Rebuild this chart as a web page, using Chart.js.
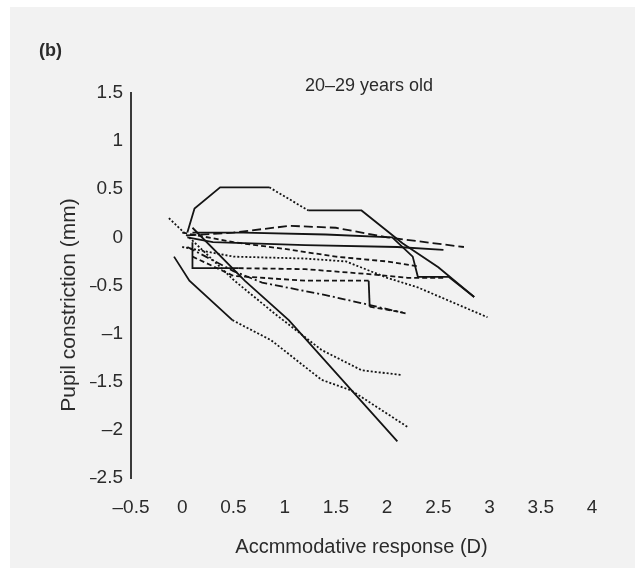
<!DOCTYPE html>
<html>
<head>
<meta charset="utf-8">
<script src="https://cdn.jsdelivr.net/npm/chart.js@4.4.1/dist/chart.umd.min.js"></script>
<style>
html, body { margin: 0; padding: 0; background: #fff; }
#panel { position: absolute; left: 10px; top: 7px; width: 625px; height: 561px; background: #f2f2f2; }
#wrap { position: absolute; left: 0; top: 0; width: 635px; height: 568px; }
</style>
</head>
<body>
<div id="panel"></div>
<div id="wrap"><canvas id="pupilChart" width="635" height="568"></canvas></div>
<script>
// tick values and their printed labels
const xTicks = [-0.5, 0, 0.5, 1, 1.5, 2, 2.5, 3, 3.5, 4];
const xTickLabels = ['\u20130.5', '0', '0.5', '1', '1.5', '2', '2.5', '3', '3.5', '4'];
const yTicks = [-2.5, -2, -1.5, -1, -0.5, 0, 0.5, 1, 1.5];
const yTickLabels = ['\u20132.5', '\u20132', '\u20131.5', '\u20131', '\u20130.5', '0', '0.5', '1', '1.5'];

const panelLabel = '(b)';
const groupLabel = '20\u201329 years old';
const xTitle = 'Accmmodative response (D)';
const yTitle = 'Pupil constriction (mm)';

// one array per subject: [accommodative response, pupil constriction]
const subject01 = [[0.05, 0.02], [0.5, 0.05], [1.05, 0.12], [1.5, 0.1], [2.0, 0.0], [2.75, -0.1]];
const subject02 = [[0.05, 0.05], [0.12, 0.3], [0.37, 0.52], [0.85, 0.52], [1.23, 0.28], [1.75, 0.28], [2.15, -0.06], [2.5, -0.31], [2.85, -0.62]];
const subject03 = [[0.05, 0.0], [0.3, -0.05], [1.2, -0.08], [2.1, -0.1], [2.55, -0.13]];
const subject04 = [[0.1, 0.05], [0.6, 0.05], [1.4, 0.03], [2.05, 0.0], [2.25, -0.2], [2.3, -0.41], [2.6, -0.41], [2.85, -0.62]];
const subject05 = [[0.0, -0.1], [0.5, -0.2], [1.2, -0.22], [1.6, -0.25], [2.0, -0.42], [2.3, -0.52], [2.98, -0.83]];
const subject06 = [[0.1, -0.05], [0.1, -0.32], [0.55, -0.32], [1.2, -0.33], [1.8, -0.38], [2.2, -0.42], [2.55, -0.42]];
const subject07 = [[0.05, -0.1], [0.5, -0.35], [0.78, -0.47], [1.4, -0.6], [1.82, -0.7], [2.18, -0.79]];
const subject08 = [[0.1, -0.2], [0.5, -0.4], [1.2, -0.45], [1.82, -0.45], [1.83, -0.72], [2.15, -0.78]];
const subject09 = [[-0.13, 0.2], [0.51, -0.45], [0.9, -0.79], [1.36, -1.17], [1.75, -1.38], [2.14, -1.43]];
const subject10 = [[0.1, 0.1], [0.61, -0.45], [1.04, -0.86], [1.68, -1.62], [2.1, -2.12]];
const subject11 = [[-0.08, -0.2], [0.07, -0.45], [0.49, -0.86], [0.87, -1.07], [1.36, -1.48], [1.65, -1.59], [2.2, -1.97]];
const subject12 = [[0.0, 0.05], [0.5, -0.05], [1.0, -0.12], [1.5, -0.2], [2.0, -0.25], [2.3, -0.3]];

const subjects = [subject01, subject02, subject03, subject04, subject05, subject06,
                  subject07, subject08, subject09, subject10, subject11, subject12];

// line styles
const solid = [];
const dashLong = [9, 4];
const dashShort = [5, 3];
const dotted = [2, 2];
const dashDot = [8, 3, 2, 3];
const lineDash = [dashLong, solid, solid, solid, dotted, dashShort, dashDot, dashShort, dotted, solid, solid, dashShort];
// some lines change style part way: segment start index -> dash
const segmentDash = [{}, {3: dotted}, {}, {}, {}, {0: solid, 1: solid}, {}, {3: solid}, {}, {}, {2: dotted, 3: dotted, 4: dotted, 5: dotted}, {}];

const ink = '#141414';
const textColour = '#2b2b2b';
const fontFamily = '"Liberation Sans", Arial, Helvetica, sans-serif';

const datasets = subjects.map((points, index) => ({
    label: 'S' + (index + 1),
    data: points.map(p => ({x: p[0], y: p[1]})),
    borderColor: ink,
    borderWidth: 1.8,
    borderDash: lineDash[index],
    pointRadius: 0,
    tension: 0,
    fill: false,
    segment: {
        borderDash: ctx => segmentDash[index][ctx.p0DataIndex]
    }
}));

const panelText = {
    id: 'panelText',
    afterDraw(chart) {
        const ctx = chart.ctx;
        ctx.save();
        ctx.fillStyle = textColour;
        ctx.textBaseline = 'middle';
        ctx.font = 'bold 18px ' + fontFamily;
        ctx.fillText(panelLabel, 39, 51);
        ctx.font = '18px ' + fontFamily;
        ctx.fillText(groupLabel, 305, 86);
        // y axis title, rotated
        ctx.translate(69, 305);
        ctx.rotate(-Math.PI / 2);
        ctx.textAlign = 'center';
        ctx.font = '21px ' + fontFamily;
        ctx.fillText(yTitle, 0, 0);
        ctx.restore();
    }
};

new Chart(document.getElementById('pupilChart'), {
    type: 'line',
    data: {datasets: datasets},
    plugins: [panelText],
    options: {
        responsive: false,
        animation: false,
        layout: {padding: {left: 90, top: 93, right: 43, bottom: 0}},
        plugins: {
            legend: {display: false},
            tooltip: {enabled: false}
        },
        scales: {
            x: {
                type: 'linear',
                min: -0.5,
                max: 4,
                afterFit: scale => { scale.height = 90; },
                afterBuildTicks: scale => { scale.ticks = xTicks.map(v => ({value: v})); },
                grid: {display: false, drawTicks: false},
                border: {display: false},
                ticks: {
                    color: textColour, padding: 18, font: {size: 19, family: fontFamily},
                    callback: (value, i) => xTickLabels[i]
                },
                title: {display: true, text: xTitle, color: textColour, padding: {top: 0, bottom: 9},
                        font: {size: 20, family: fontFamily}}
            },
            y: {
                type: 'linear',
                min: -2.5,
                max: 1.5,
                afterFit: scale => { scale.width = 41; },
                afterBuildTicks: scale => { scale.ticks = yTicks.map(v => ({value: v})); },
                grid: {display: false, drawTicks: false},
                border: {display: true, color: '#3a3a3a', width: 2},
                ticks: {
                    color: textColour, padding: 8, font: {size: 19, family: fontFamily},
                    callback: (value, i) => yTickLabels[i]
                }
            }
        }
    }
});
</script>
</body>
</html>
